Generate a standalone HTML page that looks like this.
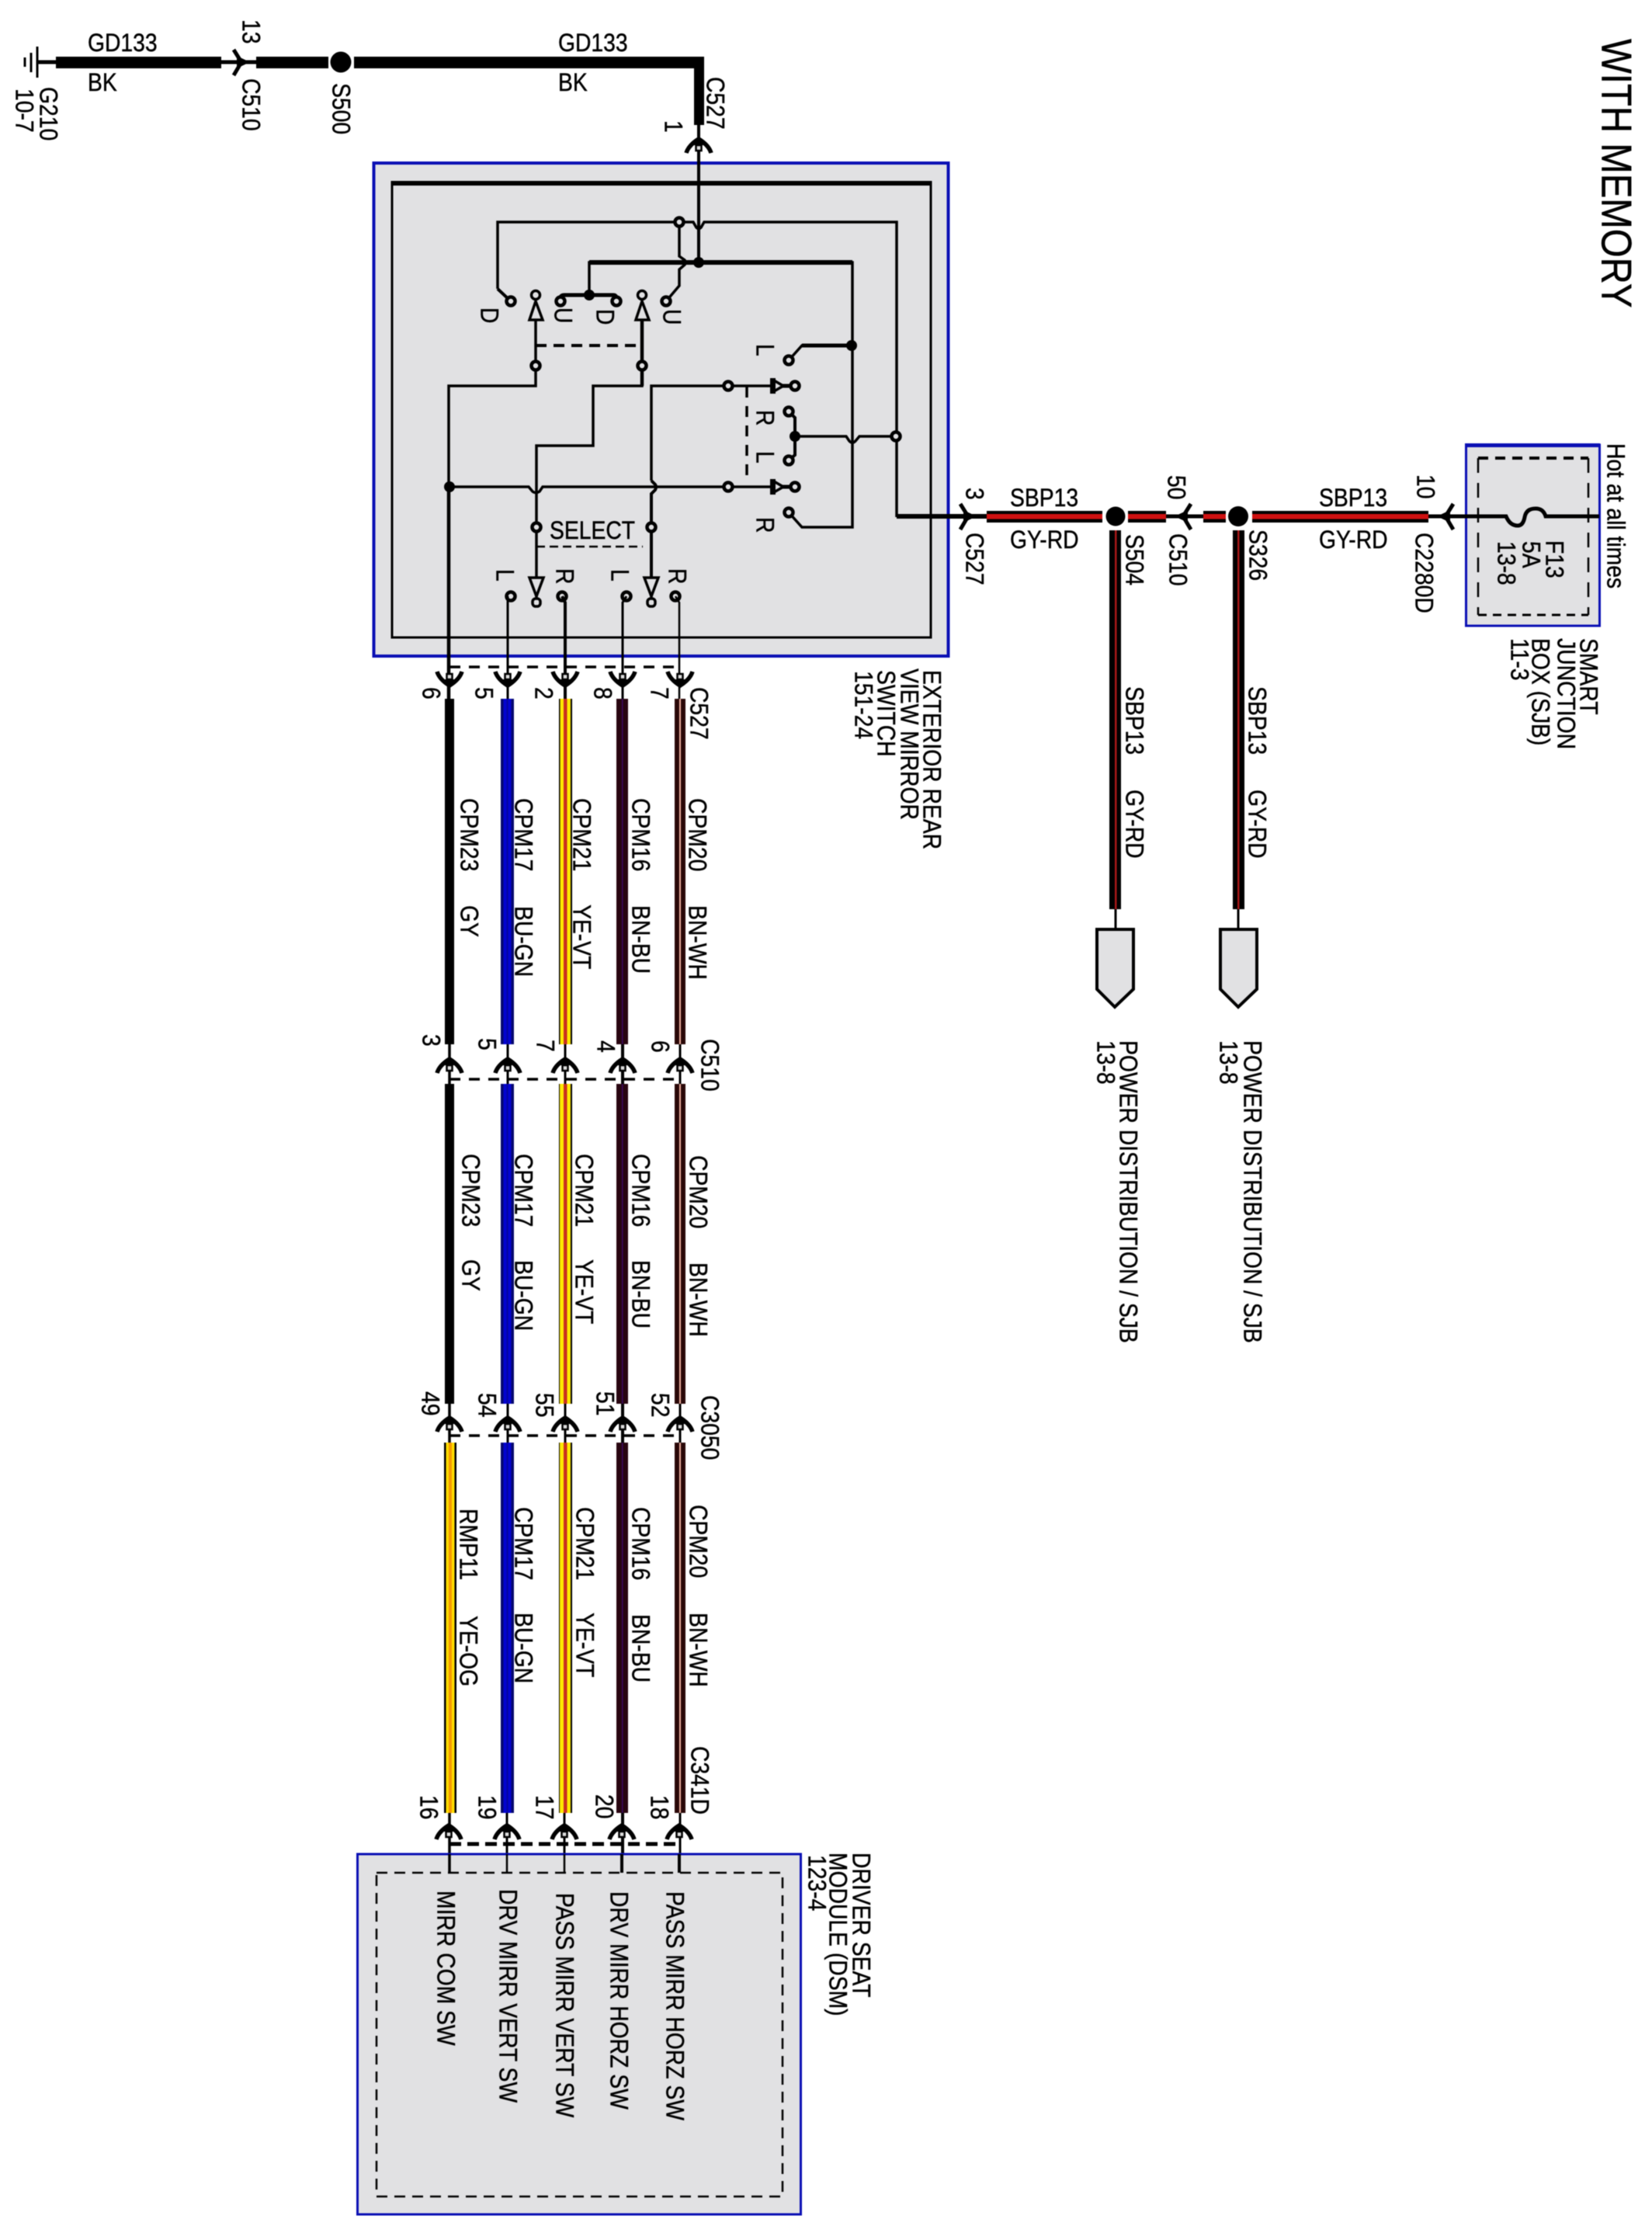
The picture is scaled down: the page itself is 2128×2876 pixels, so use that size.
<!DOCTYPE html>
<html><head><meta charset="utf-8"><title>With Memory</title>
<style>
html,body{margin:0;padding:0;background:#fff}
svg{display:block;stroke-width:3.5;filter:blur(.45px)}
text{font-family:"Liberation Sans",Arial,sans-serif;font-size:28.3px;fill:#000;stroke:#000;stroke-width:.4px}
.w{fill:none;stroke:#000}
.g{fill:#e1e1e3;stroke:#000}
.k{fill:#000;stroke:none}
</style></head><body>
<svg xmlns="http://www.w3.org/2000/svg" width="2128" height="2876" viewBox="0 0 2128 2876">
<defs>
<g id="au"><path d="M-16 22Q-13 12 0 4Q13 12 16 22" fill="none" stroke="#000" stroke-width="5.5"/><path d="M-7 12L0 0L7 12Z" fill="#000"/><rect x="-3.5" y="12" width="7" height="7" fill="#ddd" stroke="#000" stroke-width="2.5"/></g>
<g id="cr"><path d="M1 -16L11 0L1 17" fill="none" stroke="#000" stroke-width="5"/><path d="M5 -8L22 0L5 8Z" fill="#000"/></g>
<path id="tu" d="M690 388L682 412H699Z" class="g"/>
<g id="nd"><circle r="5.5" class="g" stroke-width="4.5"/></g>
<g id="nf"><circle r="7" class="k"/></g>
</defs>
<rect width="2128" height="2876" fill="#fff"/>

<!-- top ground wire -->
<path d="M48 60V100" class="w" stroke-width="3"/><path d="M40 68V93M32 74V86" class="w" stroke-width="3"/>
<path d="M48 80H72" stroke="#000" stroke-width="5"/>
<rect x="72" y="73" width="213" height="15" class="k"/>
<path d="M285 80H330" stroke="#000" stroke-width="5"/>
<use href="#cr" x="300" y="80"/>
<rect x="330" y="73" width="93" height="15" class="k"/>
<circle cx="439" cy="80" r="13.5" class="k"/>
<path d="M456 73H907V161H894V88H456Z" class="k"/>

<!-- switch box -->
<rect x="481.5" y="210" width="740" height="635" fill="#e1e1e3" stroke="#0a0fb4" stroke-width="4"/>
<rect x="505" y="236" width="694" height="585" fill="none" stroke="#000" stroke-width="3"/>
<path d="M503.5 236H1200.5" stroke="#000" stroke-width="6"/>
<path d="M900 161V338" class="w" stroke-width="4"/>
<use href="#au" x="900" y="175"/>
<!-- upper wires -->
<path d="M641 372V286H893L897 293Q900 296 903 293L907 286H1155V666" class="w"/>
<path d="M641 372L658 388" class="w" stroke-width="4"/>
<path d="M875 286V330L882 335Q884 338 882 341L875 347V368L858 388" class="w"/>
<path d="M759 380V338H1098V679H1033L1016 660" class="w"/>
<path d="M759 338H1098" stroke="#000" stroke-width="6"/>
<path d="M722 388V384Q722 380 727 380H790Q794 380 794 384V388" class="w" stroke-width="5"/>
<path d="M1016 464L1033 445H1097" class="w"/><path d="M1033 445H1097" stroke="#000" stroke-width="5"/>
<path d="M1016 530L1024 538V586L1016 593" class="w" stroke-width="4"/>
<path d="M1024 562H1090L1094 568Q1098 572 1102 568L1107 562H1154" class="w"/>
<!-- switches -->
<path d="M690 412V497H578V859" class="w"/>
<path d="M578 627V900" class="w" stroke-width="4.5"/>
<path d="M827 412V497H764V574H691V744" class="w"/>
<path d="M827 412V497" stroke="#000" stroke-width="4.5"/>
<path d="M839 619V497H995" class="w"/>
<path d="M839 619L844 624Q846 627 844 631L839 636V744" class="w" stroke-width="4"/>
<path d="M578 627H681L686 633Q690 636 695 633L699 627H995" class="w"/>
<path d="M690 445H827" stroke="#000" stroke-width="4" stroke-dasharray="14 9" fill="none"/>
<path d="M691 704H828" stroke="#000" stroke-width="2.5" stroke-dasharray="11 6" fill="none"/>
<path d="M962 498V617" stroke="#000" stroke-width="3.5" stroke-dasharray="14 11" fill="none"/>
<use href="#tu"/><use href="#tu" x="137"/>
<circle cx="690" cy="380" r="5.5" class="g"/><circle cx="827" cy="380" r="5.5" class="g"/>
<path d="M682 744H700L691 768Z" class="g"/><path d="M830 744H848L839 768Z" class="g"/>
<path d="M691 768V771M839 768V771" class="w"/>
<rect x="686" y="771" width="10" height="10" rx="4" class="g"/><rect x="834" y="771" width="10" height="10" rx="4" class="g"/>
<path d="M1008 497H1018M1008 627H1018" stroke="#000" stroke-width="5"/>
<path d="M997 490L1009 497L997 504Z" class="g"/><path d="M997 620L1009 627L997 634Z" class="g"/>
<path d="M995.5 487V507M995.5 617V637" stroke="#000" stroke-width="7"/>
<!-- contacts -->
<use href="#nd" x="658" y="388"/><use href="#nd" x="722" y="388"/><use href="#nd" x="794" y="388"/><use href="#nd" x="858" y="388"/>
<use href="#nd" x="875" y="286"/><use href="#nd" x="690" y="471"/><use href="#nd" x="827" y="471"/>
<use href="#nd" x="938" y="497"/><use href="#nd" x="938" y="627"/>
<use href="#nd" x="1024" y="497"/><use href="#nd" x="1024" y="627"/>
<use href="#nd" x="1016" y="464"/><use href="#nd" x="1016" y="530"/><use href="#nd" x="1016" y="593"/><use href="#nd" x="1016" y="660"/>
<use href="#nd" x="1154" y="562"/>
<use href="#nd" x="691" y="679"/><use href="#nd" x="839" y="679"/>
<use href="#nd" x="658" y="768"/><use href="#nd" x="724" y="768"/><use href="#nd" x="807" y="768"/><use href="#nd" x="870" y="768"/>
<use href="#nf" x="900" y="338"/><use href="#nf" x="759" y="380"/><use href="#nf" x="1097" y="445"/><use href="#nf" x="1024" y="562"/><use href="#nf" x="579" y="627"/>
<!-- lines leaving the switch -->
<path d="M654 768V900" class="w" stroke-width="3"/>
<path d="M724 768L728 776V900" class="w" stroke-width="4"/>
<path d="M807 768L802 776V900" class="w" stroke-width="3"/>
<path d="M870 768L875 776V900" class="w" stroke-width="2.5"/>

<!-- right wire row -->
<path d="M1155 665H1271" stroke="#000" stroke-width="6"/>
<use href="#cr" x="1236" y="665"/>
<rect x="1271" y="658" width="149" height="15" class="k"/><rect x="1271" y="662" width="149" height="6.5" fill="#d01010"/>
<rect x="1453" y="658" width="49" height="15" class="k"/><rect x="1453" y="662" width="49" height="6.5" fill="#d01010"/>
<path d="M1502 665H1550" stroke="#000" stroke-width="5"/>
<use href="#cr" transform="translate(1535 665) scale(-1 1)"/>
<rect x="1550" y="658" width="29" height="15" class="k"/><rect x="1550" y="662" width="29" height="6.5" fill="#d01010"/>
<rect x="1613" y="658" width="227" height="15" class="k"/><rect x="1613" y="662" width="227" height="6.5" fill="#d01010"/>
<circle cx="1437" cy="665" r="12.5" class="k"/><circle cx="1595" cy="665" r="13" class="k"/>

<rect x="1429" y="683" width="15" height="488" class="k"/><rect x="1436" y="683" width="2.5" height="488" fill="#a81818"/>
<rect x="1588" y="683" width="15" height="488" class="k"/><rect x="1594" y="683" width="2.5" height="488" fill="#a81818"/>
<path d="M1437 1171V1197M1595 1171V1197" class="w" stroke-width="3"/>
<path d="M1413 1197H1460V1274L1436 1297L1413 1274Z" fill="#e1e1e3" stroke="#000" stroke-width="4"/>
<path d="M1572 1197H1619V1274L1595 1297L1572 1274Z" fill="#e1e1e3" stroke="#000" stroke-width="4"/>

<!-- SJB -->
<rect x="1888.5" y="573" width="172" height="233" fill="#e1e1e3" stroke="#0a0fb4" stroke-width="3"/>
<path d="M1887 573.5H2061" stroke="#0a0fb4" stroke-width="5"/>
<path d="M1904 590H2046" stroke="#000" stroke-width="4" stroke-dasharray="13 9" fill="none"/>
<path d="M2046 590V792M1904 590V792" stroke="#000" stroke-width="2.5" stroke-dasharray="19 13" fill="none"/>
<path d="M1904 792H2046" stroke="#000" stroke-width="3" stroke-dasharray="11 8" fill="none"/>
<path d="M1840 665H1940Q1945 677 1955 677Q1962 677 1964 666Q1966 655 1978 655Q1988 655 1991 665H2060" fill="none" stroke="#000" stroke-width="5"/>
<use href="#cr" transform="translate(1873 665) scale(-1 1)"/>

<!-- group vertical stubs -->
<path d="M579 1345V1396M579 1808V1858M579 2335V2412" class="w"/>
<path d="M654 1345V1396M654 1808V1858M653 2335V2412" class="w" stroke-width="3"/>
<path d="M728 1345V1396M728 1808V1858M727 2335V2412" class="w" stroke-width="3"/>
<path d="M802 1345V1396M802 1808V1858M802 2335V2412" class="w" stroke-width="4"/>
<path d="M876 1345V1396M876 1808V1858M876 2335V2412" class="w" stroke-width="3"/>

<!-- wires group 1 -->
<rect x="573" y="900" width="12" height="445" class="k"/>
<rect x="645" y="900" width="17" height="445" fill="#06086e"/><rect x="648.5" y="900" width="10" height="445" fill="#0404d0"/><rect x="652.5" y="900" width="2" height="445" fill="#0505a0"/>
<rect x="720" y="900" width="17" height="445" class="k"/><rect x="721.5" y="900" width="13.5" height="445" fill="#ffe800"/><rect x="726" y="900" width="4.5" height="445" fill="#c83020"/>
<rect x="794" y="900" width="15" height="445" fill="#280510"/><rect x="801" y="900" width="1.5" height="445" fill="#3a0a60"/>
<rect x="869" y="900" width="14" height="445" fill="#2a0808"/><rect x="875" y="900" width="2" height="445" fill="#f0b0a0"/>
<!-- wires group 2 -->
<rect x="573" y="1396" width="12" height="412" class="k"/>
<rect x="645" y="1396" width="17" height="412" fill="#06086e"/><rect x="648.5" y="1396" width="10" height="412" fill="#0404d0"/><rect x="652.5" y="1396" width="2" height="412" fill="#0505a0"/>
<rect x="720" y="1396" width="17" height="412" class="k"/><rect x="721" y="1396" width="14" height="412" fill="#ffe800"/><rect x="726" y="1396" width="4.5" height="412" fill="#c83020"/>
<rect x="794" y="1396" width="15" height="412" fill="#280510"/><rect x="801" y="1396" width="1.5" height="412" fill="#3a0a60"/>
<rect x="869" y="1396" width="14" height="412" fill="#2a0808"/><rect x="875" y="1396" width="2" height="412" fill="#f0b0a0"/>
<!-- wires group 3 -->
<rect x="572" y="1858" width="16" height="477" class="k"/><rect x="574.5" y="1858" width="11" height="477" fill="#ffdd00"/><rect x="578" y="1858" width="4" height="477" fill="#f59a00"/>
<rect x="645" y="1858" width="17" height="477" fill="#06086e"/><rect x="648.5" y="1858" width="10" height="477" fill="#0404d0"/><rect x="652.5" y="1858" width="2" height="477" fill="#0505a0"/>
<rect x="720" y="1858" width="17" height="477" class="k"/><rect x="721" y="1858" width="14" height="477" fill="#ffe800"/><rect x="726" y="1858" width="4.5" height="477" fill="#c83020"/>
<rect x="794" y="1858" width="15" height="477" fill="#280510"/><rect x="801" y="1858" width="1.5" height="477" fill="#3a0a60"/>
<rect x="869" y="1858" width="14" height="477" fill="#2a0808"/><rect x="875" y="1858" width="2" height="477" fill="#f0b0a0"/>

<!-- connector arrows -->
<g transform="translate(0 887) scale(1 -1)"><use href="#au" x="579"/><use href="#au" x="654"/><use href="#au" x="728"/><use href="#au" x="802"/><use href="#au" x="876"/></g>
<use href="#au" x="579" y="1360"/><use href="#au" x="654" y="1360"/><use href="#au" x="728" y="1360"/><use href="#au" x="802" y="1360"/><use href="#au" x="876" y="1360"/>
<use href="#au" x="579" y="1822"/><use href="#au" x="654" y="1822"/><use href="#au" x="728" y="1822"/><use href="#au" x="802" y="1822"/><use href="#au" x="876" y="1822"/>
<use href="#au" x="578" y="2347"/><use href="#au" x="653" y="2347"/><use href="#au" x="727" y="2347"/><use href="#au" x="801" y="2347"/><use href="#au" x="875" y="2347"/>
<path d="M579 859H875M579 1390H875M579 1849H875" stroke="#000" stroke-width="3.5" stroke-dasharray="14 11" fill="none"/>
<path d="M579 2375H875" stroke="#000" stroke-width="5" stroke-dasharray="15 8" fill="none"/>

<!-- DSM box -->
<rect x="460.5" y="2388" width="571" height="464" fill="#e1e1e3" stroke="#0a0fb4" stroke-width="3"/>
<rect x="485" y="2412" width="523" height="417" fill="none" stroke="#000" stroke-width="2.5" stroke-dasharray="14 9"/>
<path d="M579 2388V2412" class="w"/><path d="M653 2388V2412M727 2388V2412" class="w" stroke-width="2.5"/><path d="M801 2388V2412M875 2388V2412" class="w" stroke-width="4"/>

<!-- horizontal labels -->
<g>
<text transform="matrix(1 0 0 1.15 113 66)">GD133</text>
<text transform="matrix(1 0 0 1.15 113 117)">BK</text>
<text transform="matrix(1 0 0 1.15 719 66)">GD133</text>
<text transform="matrix(1 0 0 1.15 719 117)">BK</text>
<text transform="matrix(1 0 0 1.15 708 694)">SELECT</text>
<text transform="matrix(1 0 0 1.15 1301 652)">SBP13</text>
<text transform="matrix(1 0 0 1.15 1301 706)">GY-RD</text>
<text transform="matrix(1 0 0 1.15 1699 652)">SBP13</text>
<text transform="matrix(1 0 0 1.15 1699 706)">GY-RD</text>
</g>

<!-- rotated labels -->
<g transform="translate(1.5 0)">
<text transform="matrix(0 1 -1.15 0 2062 50) " style="font-size:47.4px">WITH MEMORY</text>
<text transform="matrix(0 1 -1.15 0 311 25)">13</text>
<text transform="matrix(0 1 -1.15 0 311 101)">C510</text>
<text transform="matrix(0 1 -1.15 0 427 107)">S500</text>
<text transform="matrix(0 1 -1.15 0 50 112)">G210</text>
<text transform="matrix(0 1 -1.15 0 19 114)">10-7</text>
<text transform="matrix(0 1 -1.15 0 909 99)">C527</text>
<text transform="matrix(0 1 -1.15 0 855 155)">1</text>

<text transform="matrix(0 1 -1.15 0 618 396)">D</text>
<text transform="matrix(0 1 -1.15 0 713 396)">U</text>
<text transform="matrix(0 1 -1.15 0 767 398)">D</text>
<text transform="matrix(0 1 -1.15 0 853 398)">U</text>
<text transform="matrix(0 1 -1.15 0 973 443)">L</text>
<text transform="matrix(0 1 -1.15 0 973 528)">R</text>
<text transform="matrix(0 1 -1.15 0 973 581)">L</text>
<text transform="matrix(0 1 -1.15 0 973 666)">R</text>
<text transform="matrix(0 1 -1.15 0 638 733)">L</text>
<text transform="matrix(0 1 -1.15 0 715 732)">R</text>
<text transform="matrix(0 1 -1.15 0 786 733)">L</text>
<text transform="matrix(0 1 -1.15 0 860 732)">R</text>

<text transform="matrix(0 1 -1.15 0 1243 628)">3</text>
<text transform="matrix(0 1 -1.15 0 1243 686)">C527</text>
<text transform="matrix(0 1 -1.15 0 1449 688)">S504</text>
<text transform="matrix(0 1 -1.15 0 1503 612)">50</text>
<text transform="matrix(0 1 -1.15 0 1505 687)">C510</text>
<text transform="matrix(0 1 -1.15 0 1608 682)">S326</text>
<text transform="matrix(0 1 -1.15 0 1824 611)">10</text>
<text transform="matrix(0 1 -1.15 0 1822 686)">C2280D</text>
<text transform="matrix(0 1 -1.15 0 2069 571)">Hot at all times</text>
<text transform="matrix(0 1 -1.15 0 1990 696)">F13</text>
<text transform="matrix(0 1 -1.15 0 1960 697)">5A</text>
<text transform="matrix(0 1 -1.15 0 1928 697)">13-8</text>
<text transform="matrix(0 1 -1.15 0 2034 822)">SMART</text>
<text transform="matrix(0 1 -1.15 0 2005 822)">JUNCTION</text>
<text transform="matrix(0 1 -1.15 0 1972 822)">BOX (SJB)</text>
<text transform="matrix(0 1 -1.15 0 1945 822)">11-3</text>

<text transform="matrix(0 1 -1.15 0 1449 884)">SBP13</text>
<text transform="matrix(0 1 -1.15 0 1449 1017)">GY-RD</text>
<text transform="matrix(0 1 -1.15 0 1607 884)">SBP13</text>
<text transform="matrix(0 1 -1.15 0 1607 1017)">GY-RD</text>
<text transform="matrix(0 1 -1.15 0 1441 1340)">POWER DISTRIBUTION / SJB</text>
<text transform="matrix(0 1 -1.15 0 1412 1340)">13-8</text>
<text transform="matrix(0 1 -1.15 0 1601 1340)">POWER DISTRIBUTION / SJB</text>
<text transform="matrix(0 1 -1.15 0 1570 1340)">13-8</text>

<text transform="matrix(0 1 -1.15 0 1188 863)">EXTERIOR REAR</text>
<text transform="matrix(0 1 -1.15 0 1159 861)">VIEW MIRROR</text>
<text transform="matrix(0 1 -1.15 0 1129 863)">SWITCH</text>
<text transform="matrix(0 1 -1.15 0 1100 864)">151-24</text>

<text transform="matrix(0 1 -1.15 0 543 885)">6</text>
<text transform="matrix(0 1 -1.15 0 611 885)">5</text>
<text transform="matrix(0 1 -1.15 0 688 885)">2</text>
<text transform="matrix(0 1 -1.15 0 764 885)">8</text>
<text transform="matrix(0 1 -1.15 0 837 885)">7</text>
<text transform="matrix(0 1 -1.15 0 888 885)">C527</text>

<text transform="matrix(0 1 -1.15 0 592 1028)">CPM23</text><text transform="matrix(0 1 -1.15 0 592 1166)">GY</text>
<text transform="matrix(0 1 -1.15 0 662 1028)">CPM17</text><text transform="matrix(0 1 -1.15 0 662 1167)">BU-GN</text>
<text transform="matrix(0 1 -1.15 0 737 1028)">CPM21</text><text transform="matrix(0 1 -1.15 0 737 1165)">YE-VT</text>
<text transform="matrix(0 1 -1.15 0 813 1028)">CPM16</text><text transform="matrix(0 1 -1.15 0 813 1166)">BN-BU</text>
<text transform="matrix(0 1 -1.15 0 886 1028)">CPM20</text><text transform="matrix(0 1 -1.15 0 886 1166)">BN-WH</text>

<text transform="matrix(0 1 -1.15 0 543 1332)">3</text>
<text transform="matrix(0 1 -1.15 0 615 1337)">5</text>
<text transform="matrix(0 1 -1.15 0 690 1339)">7</text>
<text transform="matrix(0 1 -1.15 0 768 1340)">4</text>
<text transform="matrix(0 1 -1.15 0 838 1340)">6</text>
<text transform="matrix(0 1 -1.15 0 902 1338)">C510</text>

<text transform="matrix(0 1 -1.15 0 594 1486)">CPM23</text><text transform="matrix(0 1 -1.15 0 594 1622)">GY</text>
<text transform="matrix(0 1 -1.15 0 662 1486)">CPM17</text><text transform="matrix(0 1 -1.15 0 662 1623)">BU-GN</text>
<text transform="matrix(0 1 -1.15 0 740 1486)">CPM21</text><text transform="matrix(0 1 -1.15 0 740 1622)">YE-VT</text>
<text transform="matrix(0 1 -1.15 0 813 1486)">CPM16</text><text transform="matrix(0 1 -1.15 0 813 1623)">BN-BU</text>
<text transform="matrix(0 1 -1.15 0 887 1488)">CPM20</text><text transform="matrix(0 1 -1.15 0 887 1626)">BN-WH</text>

<text transform="matrix(0 1 -1.15 0 542 1792)">49</text>
<text transform="matrix(0 1 -1.15 0 615 1794)">54</text>
<text transform="matrix(0 1 -1.15 0 689 1794)">55</text>
<text transform="matrix(0 1 -1.15 0 767 1792)">51</text>
<text transform="matrix(0 1 -1.15 0 838 1794)">52</text>
<text transform="matrix(0 1 -1.15 0 902 1797)">C3050</text>

<text transform="matrix(0 1 -1.15 0 591 1943)">RMP11</text><text transform="matrix(0 1 -1.15 0 591 2081)">YE-OG</text>
<text transform="matrix(0 1 -1.15 0 662 1941)">CPM17</text><text transform="matrix(0 1 -1.15 0 662 2077)">BU-GN</text>
<text transform="matrix(0 1 -1.15 0 741 1941)">CPM21</text><text transform="matrix(0 1 -1.15 0 741 2077)">YE-VT</text>
<text transform="matrix(0 1 -1.15 0 813 1941)">CPM16</text><text transform="matrix(0 1 -1.15 0 813 2079)">BN-BU</text>
<text transform="matrix(0 1 -1.15 0 887 1938)">CPM20</text><text transform="matrix(0 1 -1.15 0 887 2077)">BN-WH</text>

<text transform="matrix(0 1 -1.15 0 889 2249)">C341D</text>
<text transform="matrix(0 1 -1.15 0 540 2312)">16</text>
<text transform="matrix(0 1 -1.15 0 615 2312)">19</text>
<text transform="matrix(0 1 -1.15 0 689 2312)">17</text>
<text transform="matrix(0 1 -1.15 0 766 2311)">20</text>
<text transform="matrix(0 1 -1.15 0 837 2312)">18</text>

<text transform="matrix(0 1 -1.15 0 562 2435)">MIRR COM SW</text>
<text transform="matrix(0 1 -1.15 0 642 2433)">DRV MIRR VERT SW</text>
<text transform="matrix(0 1 -1.15 0 715 2438)">PASS MIRR VERT SW</text>
<text transform="matrix(0 1 -1.15 0 785 2436)">DRV MIRR HORZ SW</text>
<text transform="matrix(0 1 -1.15 0 857 2436)">PASS MIRR HORZ SW</text>
<text transform="matrix(0 1 -1.15 0 1097 2386)">DRIVER SEAT</text>
<text transform="matrix(0 1 -1.15 0 1067 2386)">MODULE (DSM)</text>
<text transform="matrix(0 1 -1.15 0 1040 2389)">123-4</text>
</g>
</svg>
</body></html>
